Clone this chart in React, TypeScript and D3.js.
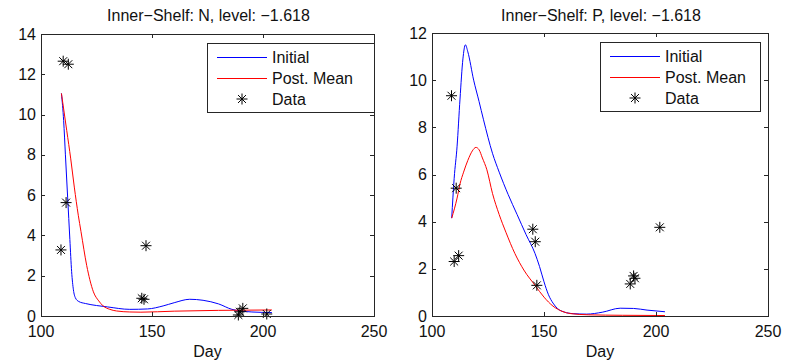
import * as React from 'react';
import * as d3 from 'd3';

// ---- data ----
const xTicks = [100, 150, 200, 250];
const nTicks = [0, 2, 4, 6, 8, 10, 12, 14];
const pTicks = [0, 2, 4, 6, 8, 10, 12];

const nDataDay = [109, 110, 111.3, 112.3, 145.4, 146.4, 147.3, 188.9, 189.6, 190.9, 201.7];
const nDataVal = [3.28, 12.65, 5.63, 12.5, 0.88, 0.83, 3.49, 0.05, 0.21, 0.38, 0.1];

const nInitDay = [109.2, 110.2, 111.0, 112.0, 113.0, 113.8, 114.6, 115.5, 117, 120, 125, 130, 140, 148, 155, 160, 167, 173, 180, 186, 190, 195, 204];
const nInitVal = [11.05, 9.7, 8.0, 5.9, 3.8, 2.2, 1.3, 0.9, 0.72, 0.62, 0.52, 0.45, 0.33, 0.35, 0.5, 0.66, 0.83, 0.78, 0.6, 0.33, 0.25, 0.2, 0.17];

const nPostDay = [109.2, 111.6, 113.4, 115, 116.8, 118, 120.6, 122, 123.6, 126, 128, 131, 134, 140, 145, 160, 180, 204];
const nPostVal = [11.05, 9.2, 7.8, 6.4, 5.0, 4.2, 2.5, 1.8, 1.2, 0.75, 0.5, 0.33, 0.25, 0.2, 0.19, 0.24, 0.28, 0.3];

const pDataDay = [108.7, 109.9, 110.8, 111.9, 145, 146.1, 146.8, 188.5, 190, 190.6, 201.7];
const pDataVal = [9.34, 2.31, 5.42, 2.56, 3.68, 3.15, 1.3, 1.36, 1.7, 1.6, 3.76];

const pInitDay = [108.8, 109.9, 111.2, 112.5, 113.8, 114.9, 116, 118.6, 121, 123, 127, 130, 134, 138, 142, 146, 148, 150, 152, 154, 156, 159, 163, 169, 176, 184, 190, 196, 204];
const pInitVal = [4.15, 5.84, 7.2, 9.2, 10.9, 11.5, 11.2, 10.0, 9.1, 8.32, 6.9, 6.1, 5.15, 4.3, 3.45, 2.65, 2.1, 1.45, 0.9, 0.55, 0.32, 0.17, 0.1, 0.08, 0.16, 0.33, 0.32, 0.25, 0.18];

const pPostDay = [108.8, 111.2, 112.5, 114.1, 116, 118, 119.6, 121, 122.5, 124.5, 127, 130, 133, 137, 141, 146, 150, 154, 158, 162, 170, 185, 204];
const pPostVal = [4.15, 5.0, 5.6, 6.1, 6.6, 7.0, 7.15, 7.05, 6.7, 6.2, 5.2, 4.3, 3.55, 2.65, 1.95, 1.3, 0.8, 0.42, 0.2, 0.1, 0.05, 0.03, 0.02];

const legendLabels = ['Initial', 'Post. Mean', 'Data'];

const panels = [
  {
    title: 'Inner\u2212Shelf: N, level: \u22121.618',
    left: 41, right: 374, top: 34, bottom: 316, yMax: 14, yTicks: nTicks,
    dataDay: nDataDay, dataVal: nDataVal,
    initDay: nInitDay, initVal: nInitVal,
    postDay: nPostDay, postVal: nPostVal,
    legend: {x: 207, y: 43, w: 167, h: 69},
  },
  {
    title: 'Inner\u2212Shelf: P, level: \u22121.618',
    left: 432, right: 768, top: 33, bottom: 316, yMax: 12, yTicks: pTicks,
    dataDay: pDataDay, dataVal: pDataVal,
    initDay: pInitDay, initVal: pInitVal,
    postDay: pPostDay, postVal: pPostVal,
    legend: {x: 600, y: 42, w: 160, h: 69},
  },
];

const FONT = '"Liberation Sans", Arial, Helvetica, sans-serif';
const AXIS = '#262626';

function star(g, cx, cy, r) {
  const d = r * 0.72;
  const path = `M${cx - r},${cy}H${cx + r}M${cx},${cy - r}V${cy + r}` +
    `M${cx - d},${cy - d}L${cx + d},${cy + d}M${cx - d},${cy + d}L${cx + d},${cy - d}`;
  g.append('path').attr('d', path).attr('stroke', '#000').attr('stroke-width', 1).attr('fill', 'none');
}

export default function App() {
  const ref = React.useRef(null);

  React.useEffect(() => {
    const svg = d3.select(ref.current);
    svg.selectAll('*').remove();

    panels.forEach(p => {
      const x = d3.scaleLinear().domain([100, 250]).range([p.left, p.right]);
      const y = d3.scaleLinear().domain([0, p.yMax]).range([p.bottom, p.top]);
      const g = svg.append('g');

      g.append('rect')
        .attr('x', p.left).attr('y', p.top)
        .attr('width', p.right - p.left).attr('height', p.bottom - p.top)
        .attr('fill', '#fff');

      // curves
      const line = d3.line().x(d => x(d[0])).y(d => y(d[1])).curve(d3.curveMonotoneX);
      g.append('path')
        .attr('d', line(p.initDay.map((d, i) => [d, p.initVal[i]])))
        .attr('fill', 'none').attr('stroke', '#0000ff').attr('stroke-width', 1);
      g.append('path')
        .attr('d', line(p.postDay.map((d, i) => [d, p.postVal[i]])))
        .attr('fill', 'none').attr('stroke', '#ff0000').attr('stroke-width', 1);

      p.dataDay.forEach((d, i) => star(g, x(d), y(p.dataVal[i]), 5.5));

      // frame
      g.append('rect')
        .attr('x', p.left + 0.5).attr('y', p.top + 0.5)
        .attr('width', p.right - p.left).attr('height', p.bottom - p.top)
        .attr('fill', 'none').attr('stroke', AXIS).attr('stroke-width', 1);

      // ticks (inside, all four sides)
      xTicks.forEach(t => {
        const xx = Math.round(x(t)) + 0.5;
        g.append('line').attr('x1', xx).attr('x2', xx).attr('y1', p.bottom).attr('y2', p.bottom - 4).attr('stroke', AXIS);
        g.append('line').attr('x1', xx).attr('x2', xx).attr('y1', p.top).attr('y2', p.top + 4).attr('stroke', AXIS);
        g.append('text').attr('x', x(t)).attr('y', p.bottom + 21)
          .attr('text-anchor', 'middle').attr('font-family', FONT).attr('font-size', 16)
          .attr('fill', '#111').text(t);
      });
      p.yTicks.forEach(t => {
        const yy = Math.round(y(t)) + 0.5;
        g.append('line').attr('x1', p.left).attr('x2', p.left + 4).attr('y1', yy).attr('y2', yy).attr('stroke', AXIS);
        g.append('line').attr('x1', p.right).attr('x2', p.right - 4).attr('y1', yy).attr('y2', yy).attr('stroke', AXIS);
        g.append('text').attr('x', p.left - 5).attr('y', y(t) + 5.5)
          .attr('text-anchor', 'end').attr('font-family', FONT).attr('font-size', 16)
          .attr('fill', '#111').text(t);
      });

      // title and x label
      const cx = (p.left + p.right) / 2;
      g.append('text').attr('x', cx + 1).attr('y', 21)
        .attr('text-anchor', 'middle').attr('font-family', FONT).attr('font-size', 16)
        .attr('fill', '#111').text(p.title);
      g.append('text').attr('x', cx).attr('y', 357)
        .attr('text-anchor', 'middle').attr('font-family', FONT).attr('font-size', 16)
        .attr('fill', '#111').text('Day');

      // legend
      const L = p.legend;
      const lg = g.append('g');
      lg.append('rect').attr('x', L.x + 0.5).attr('y', L.y + 0.5).attr('width', L.w).attr('height', L.h)
        .attr('fill', '#fff').attr('stroke', AXIS).attr('stroke-width', 1);
      const rows = [L.y + 14, L.y + 35, L.y + 56];
      const colors = ['#0000ff', '#ff0000'];
      legendLabels.forEach((lab, i) => {
        if (i < 2) {
          lg.append('line').attr('x1', L.x + 10).attr('x2', L.x + 60)
            .attr('y1', rows[i] + 0.5).attr('y2', rows[i] + 0.5)
            .attr('stroke', colors[i]).attr('stroke-width', 1);
        } else {
          star(lg, L.x + 35, rows[i], 5.5);
        }
        lg.append('text').attr('x', L.x + 65).attr('y', rows[i] + 6)
          .attr('font-family', FONT).attr('font-size', 16).attr('fill', '#111').text(lab);
      });
    });
  }, []);

  return (
    <svg ref={ref} width={798} height={363}
      style={{position: 'absolute', left: 0, top: 0, background: '#fff'}} />
  );
}
